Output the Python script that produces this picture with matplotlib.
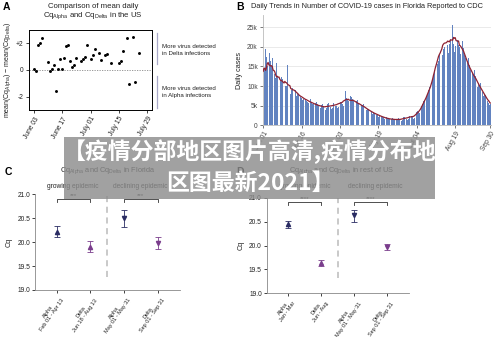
import numpy as np
import pandas as pd
import matplotlib
matplotlib.use("Agg")
import matplotlib.pyplot as plt
from matplotlib.patches import Rectangle
from matplotlib.lines import Line2D

plt.rcParams['font.family'] = ['Liberation Sans', 'DejaVu Sans']
plt.rcParams['mathtext.fontset'] = 'custom'
plt.rcParams['mathtext.rm'] = 'Liberation Sans'
plt.rcParams['mathtext.it'] = 'Liberation Sans'

# ---------------- data ----------------
# Panel A: daily mean(Cq_Alpha) - mean(Cq_Delta), days counted from June 03
a_days = [0, 1, 2, 3, 4, 7, 8, 9, 10, 11, 12, 13, 14, 15, 16, 17, 18, 19, 20, 21,
          23, 24, 25, 26, 28, 29, 30, 32, 33, 35, 36, 38, 42, 43, 44, 46, 47, 49, 50, 52]
a_diff = [0.1, -0.1, 1.9, 2.0, 2.4, 0.6, -0.1, 0.1, 0.4, -1.6, 0.1, 0.8, 0.1, 0.9, 1.8,
          1.9, 0.7, 0.25, 0.4, 0.9, 0.7, 0.85, 1.0, 1.9, 0.8, 1.1, 1.55, 1.3, 0.75, 1.1,
          1.2, 0.55, 0.5, 0.7, 1.45, 2.4, -1.05, 2.5, -0.9, 1.3]
a_tick_days = [0, 14, 28, 42, 56]
a_tick_labels = ["June 03", "June 17", "July 01", "July 15", "July 29"]

# Panel B: daily reported cases in Florida (thousands), Jan 01 - Sep 30, one row per week
b_cases_k = [
    9.8, 11.2, 14.5, 19.5, 17.5, 15.0, 10.5,
    14.8, 18.5, 16.3, 15.0, 17.2, 13.5, 11.1,
    13.2, 12.0, 15.8, 12.5, 11.8, 10.4, 11.8,
    11.5, 12.4, 11.8, 10.6, 11.2, 9.4, 10.1,
    10.0, 15.3, 9.8, 10.2, 9.0, 8.0, 9.1,
    9.5, 10.2, 9.0, 8.6, 8.9, 7.5, 7.9,
    8.0, 8.6, 7.8, 7.2, 7.0, 6.4, 6.8,
    7.2, 7.5, 6.8, 6.2, 6.0, 5.8, 6.0,
    6.3, 6.6, 6.0, 5.5, 5.4, 4.9, 5.2,
    5.6, 5.9, 5.4, 4.9, 5.0, 4.4, 4.5,
    5.2, 5.5, 4.9, 4.6, 4.4, 4.0, 4.3,
    5.4, 5.8, 5.1, 4.7, 4.6, 4.2, 4.5,
    5.8, 6.0, 5.5, 5.0, 4.9, 4.5, 4.7,
    6.3, 6.9, 6.0, 5.6, 5.5, 5.0, 5.3,
    7.0, 8.8, 6.9, 6.5, 6.2, 5.6, 5.2,
    7.4, 7.2, 6.8, 6.2, 6.0, 5.5, 5.7,
    6.2, 6.4, 5.8, 5.3, 5.0, 4.6, 5.2,
    5.2, 5.4, 4.9, 4.4, 4.3, 3.8, 4.2,
    4.1, 4.3, 3.8, 3.5, 3.3, 2.9, 3.3,
    3.2, 3.4, 3.0, 2.7, 2.6, 2.2, 2.5,
    2.5, 2.7, 2.4, 2.1, 2.0, 1.7, 2.0,
    1.9, 2.1, 1.8, 1.7, 1.6, 1.3, 1.5,
    1.7, 1.8, 1.6, 1.5, 1.4, 1.2, 1.3,
    1.6, 1.8, 1.6, 1.5, 1.4, 1.2, 1.4,
    2.0, 2.2, 1.9, 1.8, 1.7, 1.4, 1.6,
    2.4, 2.7, 2.5, 2.3, 2.0, 1.7, 1.8,
    2.6, 3.0, 3.4, 3.6, 3.5, 3.1, 3.2,
    4.2, 4.8, 5.5, 6.2, 6.5, 5.9, 6.1,
    7.2, 8.0, 9.0, 9.8, 10.2, 9.6, 9.2,
    11.5, 12.8, 14.0, 15.5, 16.8, 15.2, 15.7,
    16.5, 18.2, 19.5, 21.0, 20.3, 18.0, 19.5,
    20.0, 24.5, 21.8, 22.5, 20.5, 18.4, 20.7,
    22.0, 23.8, 21.0, 25.5, 20.8, 18.6, 20.2,
    27.0, 22.5, 21.8, 20.5, 20.0, 18.2, 20.5,
    19.5, 21.5, 19.8, 18.0, 17.2, 15.8, 16.3,
    15.8, 17.2, 15.5, 14.2, 13.5, 12.0, 13.3,
    12.8, 14.0, 12.6, 11.5, 11.0, 9.8, 10.9,
    10.0, 10.8, 9.6, 8.8, 8.4, 7.4, 8.0,
    7.8, 8.0, 7.0, 6.3, 5.8, 5.1, 5.5,
]
b_tick_days = [0, 46, 92, 138, 184, 230, 272]
b_tick_labels = ["Jan 01", "Feb 16", "Apr 03", "May 19", "Jul 04", "Aug 19", "Sep 30"]
b_yticks = [0, 5000, 10000, 15000, 20000, 25000]
b_ytick_labels = ["0", "5k", "10k", "15k", "20k", "25k"]

# Panels C and D: mean Cq with 95% CI
c_labels = ["Alpha\nFeb 01 - Apr 13", "Delta\nJun 18 - Aug 13",
            "Alpha\nMay 01 - May 31", "Delta\nSep 01 - Sep 31"]
c_mean = [20.21, 19.90, 20.50, 19.98]
c_lo = [20.10, 19.79, 20.31, 19.85]
c_hi = [20.33, 20.02, 20.68, 20.10]
c_sig = "***"

d_labels = ["Alpha\nJan - Mar", "Delta\nJun - Aug",
            "Alpha\nMay 01 - May 31", "Delta\nSep 01 - Sep 31"]
d_mean = [20.44, 19.63, 20.63, 19.97]
d_lo = [20.36, 19.57, 20.50, 19.90]
d_hi = [20.52, 19.70, 20.74, 20.03]
d_sig = "****"

cq_ticks = [19.0, 19.5, 20.0, 20.5, 21.0]

# ---------------- figure ----------------
W, H = 500, 337
fig = plt.figure(figsize=(W / 100, H / 100), dpi=100)


def fx(px):
    return px / W


def fy(py):
    return 1 - py / H


def axes_px(left, top, right, bottom):
    return fig.add_axes([fx(left), fy(bottom), (right - left) / W, (bottom - top) / H])


TICK_FS = 4.8
TXT = "#222222"

# ---------- Panel A ----------
axA = axes_px(29, 30, 152, 110)
axA.scatter(a_days, a_diff, s=4.5, color="black", zorder=3, linewidths=0)
axA.axhline(0, color="#888888", lw=0.6, ls=(0, (1.5, 1.5)))
axA.set_xlim(-2.5, 58.4)
axA.set_ylim(-3, 3)
axA.set_yticks([-2, 0, 2])
axA.set_yticklabels(["-2", "0", "+2"])
axA.set_xticks(a_tick_days)
axA.set_xticklabels(a_tick_labels, rotation=60, ha="right", rotation_mode="anchor")
axA.tick_params(labelsize=TICK_FS, length=2.5, width=0.6, pad=1.5, colors=TXT)
for s in axA.spines.values():
    s.set_linewidth(0.7)
axA.set_ylabel(r"mean(Cq$_{Alpha}$) $-$ mean(Cq$_{Delta}$)", fontsize=5.0, labelpad=2, color=TXT)

fig.text(fx(3), fy(7), "A", fontsize=7.5, fontweight="bold", va="center", ha="left")
fig.text(fx(93), fy(6), "Comparison of mean daily", fontsize=5.6, ha="center", va="center", color=TXT)
fig.text(fx(93), fy(16), r"Cq$_{Alpha}$ and Cq$_{Delta}$ in the US", fontsize=5.6,
         ha="center", va="center", color=TXT)

bracket_col = "#a8a8c8"
fig.add_artist(Line2D([fx(157), fx(157)], [fy(33), fy(64)], color=bracket_col, lw=0.9))
fig.add_artist(Line2D([fx(157), fx(157)], [fy(76), fy(108)], color=bracket_col, lw=0.9))
fig.text(fx(162), fy(50), "More virus detected\nin Delta infections", fontsize=4.4,
         ha="left", va="center", color=TXT, linespacing=1.3)
fig.text(fx(162), fy(92), "More virus detected\nin Alpha infections", fontsize=4.4,
         ha="left", va="center", color=TXT, linespacing=1.3)

# ---------- Panel B ----------
axB = axes_px(262.7, 15.5, 490.7, 125.3)
cases = np.array(b_cases_k) * 1000
days = np.arange(len(cases))
avg7 = pd.Series(cases).rolling(7, center=True, min_periods=1).mean()
axB.bar(days, cases, width=0.75, color="#6283c0", linewidth=0, zorder=2)
axB.plot(days, avg7, color="#8e2232", lw=0.9, zorder=3)
axB.set_xlim(-0.5, len(cases) - 0.5)
axB.set_ylim(0, 28000)
axB.set_yticks(b_yticks)
axB.set_yticklabels(b_ytick_labels)
axB.set_xticks(b_tick_days)
axB.set_xticklabels(b_tick_labels, rotation=60, ha="right", rotation_mode="anchor")
axB.grid(axis="y", color="#e6e6e6", lw=0.6, zorder=0)
axB.tick_params(labelsize=TICK_FS, length=2, width=0.5, pad=1.5, colors="#444444")
for name, s in axB.spines.items():
    if name in ("top", "right"):
        s.set_visible(False)
    else:
        s.set_color("#bbbbbb")
        s.set_linewidth(0.6)
axB.set_ylabel("Daily cases", fontsize=5.2, labelpad=3, color=TXT)
fig.text(fx(236), fy(7), "B", fontsize=7.5, fontweight="bold", va="center", ha="left")
fig.text(fx(251), fy(7), "Daily Trends in Number of COVID-19 cases in Florida Reported to CDC",
         fontsize=5.3, ha="left", va="center", color=TXT)

# ---------- Panels C and D ----------
NAVY = "#2a2c63"
PURPLE = "#7a3d8c"
marks = ["^", "^", "v", "v"]
cols = [NAVY, PURPLE, NAVY, PURPLE]


def cq_panel(ax, labels, mean, lo, hi, sig, dash_lo):
    for i in range(4):
        ax.errorbar(i, mean[i], yerr=[[mean[i] - lo[i]], [hi[i] - mean[i]]],
                    fmt=marks[i], color=cols[i], ms=3.0, elinewidth=0.6, capsize=2.0,
                    capthick=0.6, zorder=3)
    ax.plot([1.5, 1.5], [dash_lo, 21.0], color="#bbbbbb", lw=1.1, ls=(0, (4, 3)), zorder=1)
    for a, b in [(0, 1), (2, 3)]:
        ax.plot([a, a, b, b], [20.84, 20.9, 20.9, 20.84], color="#333333", lw=0.6,
                clip_on=False)
        ax.text((a + b) / 2, 20.93, sig, fontsize=4.5, ha="center", va="bottom",
                color=TXT, clip_on=False)
    ax.set_xlim(-0.64, 3.66)
    ax.set_ylim(19.0, 21.0)
    ax.set_yticks(cq_ticks)
    ax.set_yticklabels([f"{t:.1f}" for t in cq_ticks])
    ax.set_xticks(range(4))
    ax.set_xticklabels(labels, rotation=55, ha="right", rotation_mode="anchor",
                       multialignment="center", linespacing=1.0)
    ax.tick_params(labelsize=4.0, length=2, width=0.6, pad=1.5, colors=TXT)
    ax.tick_params(axis="y", labelsize=TICK_FS)
    for name in ("top", "right"):
        ax.spines[name].set_visible(False)
    for name in ("left", "bottom"):
        ax.spines[name].set_color("#888888")
        ax.spines[name].set_linewidth(0.6)
    ax.set_ylabel("Cq", fontsize=5.2, labelpad=3, color=TXT)


axC = axes_px(35, 194.3, 180, 290)
cq_panel(axC, c_labels, c_mean, c_lo, c_hi, c_sig, 19.27)
axD = axes_px(266.7, 197.7, 409, 293.3)
cq_panel(axD, d_labels, d_mean, d_lo, d_hi, d_sig, 19.32)

fig.text(fx(5), fy(172), "C", fontsize=7.5, fontweight="bold", va="center", ha="left")
fig.text(fx(108), fy(171), r"Cq$_{Alpha}$ and Cq$_{Delta}$ in Florida", fontsize=5.3,
         ha="center", va="center", color=TXT)
fig.text(fx(73), fy(186), "growing epidemic", fontsize=4.8, ha="center", va="center", color=TXT)
fig.text(fx(140), fy(186), "declining epidemic", fontsize=4.8, ha="center", va="center", color=TXT)

fig.text(fx(236), fy(172), "D", fontsize=7.5, fontweight="bold", va="center", ha="left")
fig.text(fx(342), fy(171), r"Cq$_{Alpha}$ and Cq$_{Delta}$ in rest of US", fontsize=5.3,
         ha="center", va="center", color=TXT)
fig.text(fx(305), fy(186), "growing epidemic", fontsize=4.8, ha="center", va="center", color=TXT)
fig.text(fx(375), fy(186), "declining epidemic", fontsize=4.8, ha="center", va="center", color=TXT)

# ---------- headline banner ----------
fig.add_artist(Rectangle((fx(64), fy(199)), (435 - 64) / W, (199 - 137) / H,
                         transform=fig.transFigure, facecolor="#8c8c8c", alpha=0.82,
                         edgecolor="none", zorder=20))
cjk = ["Noto Sans CJK SC", "DejaVu Sans"]
fig.text(fx(250), fy(152), "【疫情分部地区图片高清,疫情分布地", fontsize=16.5,
         family=cjk, fontweight="bold", color="white", ha="center", va="center", zorder=21)
fig.text(fx(250), fy(183), "区图最新2021】", fontsize=16.5,
         family=cjk, fontweight="bold", color="white", ha="center", va="center", zorder=21)

fig.savefig("out.png", dpi=100)
